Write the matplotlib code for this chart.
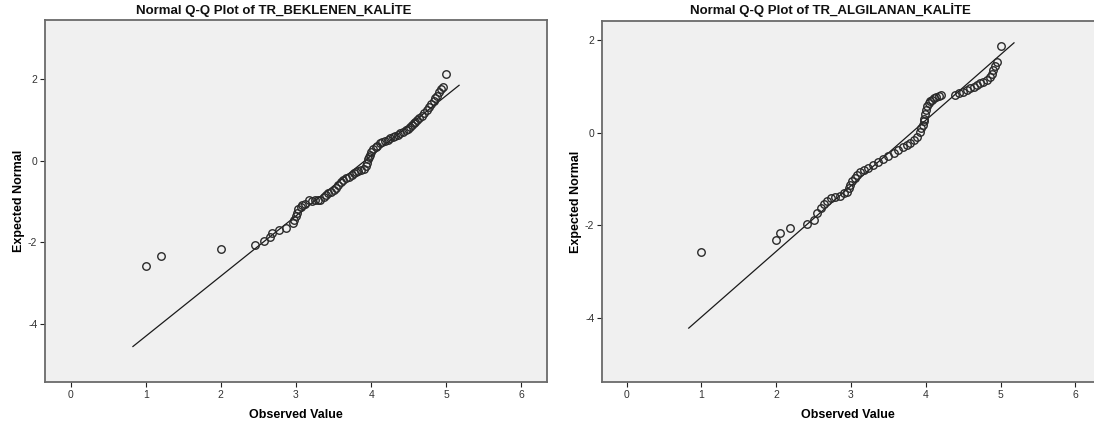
import matplotlib.pyplot as plt

plt.rcParams['font.family'] = ['Liberation Sans', 'DejaVu Sans']
plt.rcParams['axes.unicode_minus'] = False

# --- left chart: TR_BEKLENEN_KALITE (observed value, expected normal) ---
beklenen_obs = [1.00, 1.20, 2.00, 2.46, 2.58, 2.65, 2.68, 2.77, 2.87, 2.96,
                2.98, 3.00, 3.01, 3.03, 3.06, 3.08, 3.12, 3.17, 3.21, 3.25,
                3.29, 3.32, 3.37, 3.40, 3.43, 3.47, 3.50, 3.53, 3.56, 3.60,
                3.63, 3.67, 3.70, 3.74, 3.77, 3.80, 3.83, 3.87, 3.90, 3.93,
                3.95, 3.96, 3.97, 3.98, 4.00, 4.03, 4.06, 4.08, 4.12, 4.15,
                4.18, 4.22, 4.25, 4.29, 4.32, 4.36, 4.39, 4.43, 4.46, 4.49,
                4.52, 4.55, 4.57, 4.59, 4.61, 4.64, 4.67, 4.70, 4.74, 4.77,
                4.80, 4.83, 4.85, 4.88, 4.90, 4.93, 4.95, 5.00]
beklenen_exp = [-2.58, -2.33, -2.17, -2.06, -1.97, -1.87, -1.77, -1.70, -1.64, -1.53,
                -1.45, -1.35, -1.28, -1.18, -1.12, -1.09, -1.05, -0.97, -0.98, -0.97,
                -0.96, -0.95, -0.88, -0.84, -0.80, -0.76, -0.72, -0.66, -0.60, -0.53,
                -0.47, -0.43, -0.39, -0.35, -0.31, -0.28, -0.25, -0.22, -0.19, -0.12,
                -0.05, 0.04, 0.10, 0.14, 0.22, 0.30, 0.34, 0.37, 0.43, 0.46,
                0.49, 0.52, 0.55, 0.58, 0.61, 0.64, 0.67, 0.71, 0.75, 0.79,
                0.83, 0.88, 0.92, 0.96, 1.00, 1.05, 1.10, 1.17, 1.24, 1.32,
                1.40, 1.47, 1.53, 1.60, 1.68, 1.76, 1.81, 2.13]
beklenen_line_x = [0.83, 5.17]
beklenen_line_y = [-4.55, 1.85]

# --- right chart: TR_ALGILANAN_KALITE ---
algilanan_obs = [1.00, 2.00, 2.05, 2.18, 2.41, 2.50, 2.54, 2.60, 2.64, 2.68,
                 2.73, 2.79, 2.85, 2.90, 2.94, 2.97, 2.99, 3.02, 3.05, 3.08,
                 3.12, 3.17, 3.23, 3.30, 3.36, 3.43, 3.50, 3.57, 3.63, 3.70,
                 3.75, 3.79, 3.84, 3.88, 3.92, 3.94, 3.96, 3.97, 3.97, 3.99,
                 4.00, 4.02, 4.04, 4.06, 4.08, 4.11, 4.14, 4.18, 4.21, 4.39,
                 4.44, 4.50, 4.55, 4.59, 4.64, 4.68, 4.73, 4.77, 4.82, 4.86,
                 4.88, 4.90, 4.93, 4.95, 5.00]
algilanan_exp = [-2.57, -2.32, -2.17, -2.05, -1.96, -1.88, -1.73, -1.63, -1.53, -1.47,
                 -1.40, -1.38, -1.36, -1.31, -1.27, -1.20, -1.12, -1.05, -0.97, -0.92,
                 -0.86, -0.81, -0.76, -0.70, -0.63, -0.56, -0.50, -0.45, -0.38, -0.31,
                 -0.27, -0.23, -0.16, -0.09, 0.02, 0.10, 0.16, 0.24, 0.30, 0.40,
                 0.48, 0.56, 0.63, 0.67, 0.70, 0.74, 0.77, 0.79, 0.80, 0.80,
                 0.84, 0.88, 0.92, 0.95, 0.99, 1.02, 1.06, 1.09, 1.14, 1.20,
                 1.27, 1.34, 1.43, 1.52, 1.87]
algilanan_line_x = [0.83, 5.18]
algilanan_line_y = [-4.21, 1.93]

x_ticks = [0, 1, 2, 3, 4, 5, 6]
y_ticks = [-4, -2, 0, 2]

W, H = 1094, 430
fig = plt.figure(figsize=(W / 100, H / 100), dpi=100)


def qq_panel(rect, obs, exp, lx, ly, xlim, ylim, title, title_x, right_spine=True):
    # rect is in pixels: left, top, right, bottom
    l, t, r, b = rect
    ax = fig.add_axes([l / W, 1 - b / H, (r - l) / W, (b - t) / H])
    ax.set_facecolor('#f0f0f0')
    ax.plot(lx, ly, color='#1a1a1a', lw=0.9, zorder=2)
    ax.plot(obs, exp, linestyle='none', marker='o', markersize=5.4,
            markerfacecolor='none', markeredgecolor='#2a2a2a',
            markeredgewidth=1.0, zorder=3)
    ax.set_xlim(xlim)
    ax.set_ylim(ylim)
    ax.set_xticks(x_ticks)
    ax.set_yticks(y_ticks)
    ax.tick_params(direction='out', length=3.5, width=0.8, labelsize=7.5,
                   labelcolor='#333333', color='#222222', pad=2)
    for side, sp in ax.spines.items():
        sp.set_color('#6a6a6a')
        sp.set_linewidth(1.3)
    if not right_spine:
        ax.spines['right'].set_visible(False)
    ax.set_xlabel('Observed Value', fontsize=9, fontweight='bold', labelpad=7)
    ax.set_ylabel('Expected Normal', fontsize=9, fontweight='bold', labelpad=2)
    fig.text(title_x / W, 1 - 10 / H, title, ha='center', va='center',
             fontsize=9.5, fontweight='bold', color='#111111')
    return ax


qq_panel((45, 20, 547, 382), beklenen_obs, beklenen_exp,
         beklenen_line_x, beklenen_line_y, (-0.34, 6.34), (-5.42, 3.45),
         'Normal Q-Q Plot of TR_BEKLENEN_KALİTE', 274)
qq_panel((602, 21, 1094, 382), algilanan_obs, algilanan_exp,
         algilanan_line_x, algilanan_line_y, (-0.33, 6.25), (-5.37, 2.40),
         'Normal Q-Q Plot of TR_ALGILANAN_KALİTE', 830, right_spine=False)

fig.savefig('out.png', dpi=100)
